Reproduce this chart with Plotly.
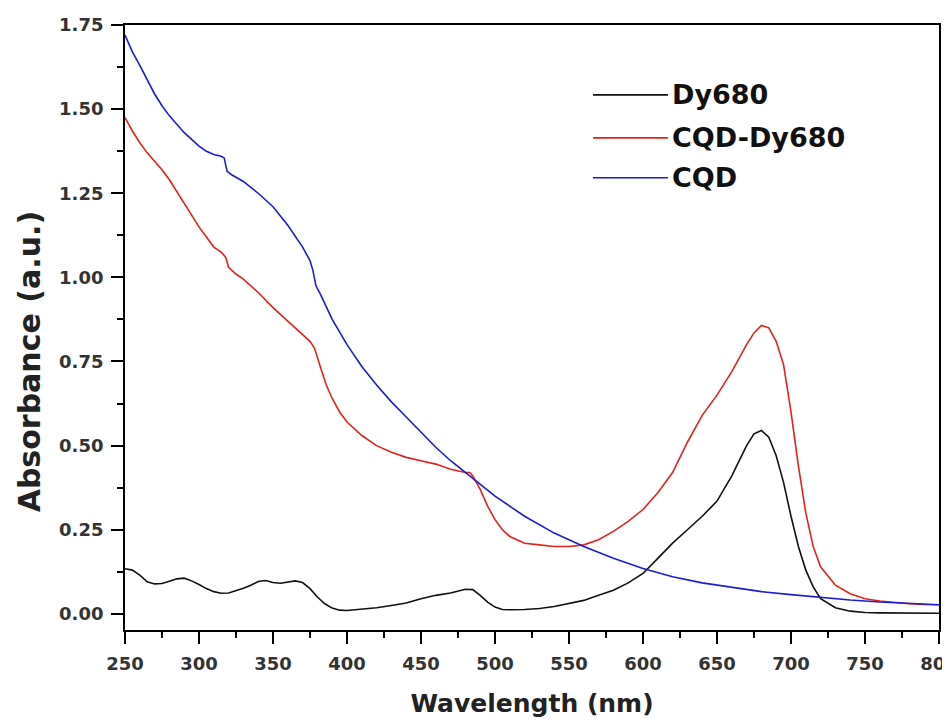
import plotly.graph_objects as go

# ---- data ----
dy_x = [250,255,260,265,270,275,280,285,290,295,300,305,310,315,320,325,330,335,340,345,350,355,360,365,370,375,380,385,390,395,400,410,420,430,440,450,460,470,475,480,485,490,495,500,505,510,520,530,540,550,560,570,580,590,600,610,620,630,640,650,660,670,675,680,685,690,695,700,705,710,715,720,730,740,750,760,770,780,790,800]
dy_y = [0.134,0.13,0.115,0.095,0.089,0.09,0.097,0.104,0.106,0.098,0.087,0.075,0.066,0.061,0.062,0.068,0.076,0.085,0.096,0.099,0.093,0.091,0.095,0.098,0.093,0.075,0.05,0.03,0.017,0.011,0.01,0.013,0.018,0.025,0.032,0.045,0.055,0.062,0.067,0.073,0.072,0.055,0.035,0.02,0.013,0.012,0.013,0.016,0.022,0.03,0.04,0.055,0.07,0.092,0.12,0.165,0.21,0.25,0.29,0.335,0.41,0.5,0.535,0.545,0.525,0.47,0.39,0.29,0.2,0.13,0.08,0.045,0.018,0.008,0.004,0.003,0.003,0.002,0.002,0.002]

cd_x = [250,255,260,265,270,275,280,290,300,310,315,318,320,325,330,340,350,360,370,375,378,380,383,386,390,395,400,410,420,430,440,450,460,470,475,480,483,485,490,495,500,505,510,520,530,540,550,560,570,580,590,600,610,620,630,640,650,660,670,675,680,685,690,695,700,705,710,715,720,730,740,750,760,770,780,790,800]
cd_y = [1.475,1.435,1.40,1.37,1.345,1.32,1.29,1.22,1.15,1.09,1.075,1.06,1.03,1.01,0.995,0.955,0.91,0.87,0.83,0.81,0.79,0.76,0.72,0.68,0.64,0.60,0.57,0.53,0.50,0.48,0.465,0.455,0.445,0.43,0.425,0.42,0.42,0.41,0.37,0.32,0.28,0.25,0.23,0.21,0.205,0.20,0.20,0.205,0.22,0.245,0.275,0.31,0.36,0.42,0.51,0.59,0.65,0.72,0.80,0.835,0.857,0.85,0.81,0.74,0.60,0.44,0.30,0.20,0.14,0.085,0.06,0.045,0.038,0.033,0.03,0.028,0.027]

cq_x = [250,255,260,265,270,275,280,285,290,295,300,305,310,315,317,319,322,330,340,350,360,370,375,377,379,382,390,400,410,420,430,440,450,460,470,480,490,500,520,540,560,580,600,620,640,660,680,700,720,740,760,780,800]
cq_y = [1.72,1.67,1.63,1.585,1.545,1.51,1.48,1.455,1.43,1.41,1.39,1.375,1.365,1.36,1.355,1.315,1.305,1.285,1.25,1.21,1.155,1.09,1.05,1.02,0.975,0.95,0.875,0.80,0.735,0.68,0.63,0.585,0.54,0.495,0.455,0.42,0.385,0.35,0.29,0.24,0.2,0.165,0.135,0.11,0.092,0.078,0.066,0.057,0.048,0.041,0.035,0.03,0.027]

names = ["Dy680", "CQD-Dy680", "CQD"]
colors = ["#111111", "#e3221c", "#1c1cd6"]

FONT = "DejaVu Sans"

fig = go.Figure()
for xs, ys, nm, c in zip([dy_x, cd_x, cq_x], [dy_y, cd_y, cq_y], names, colors):
    fig.add_trace(go.Scatter(x=xs, y=ys, mode="lines", name=nm,
                             line=dict(color=c, width=1.6), showlegend=False))

# manual legend (long swatches as in the original)
leg_y = [0.8845, 0.8135, 0.7475]
for nm, c, ly in zip(names, colors, leg_y):
    fig.add_shape(type="line", xref="paper", yref="paper",
                  x0=0.575, x1=0.667, y0=ly, y1=ly,
                  line=dict(color=c, width=1.6))
    fig.add_annotation(xref="paper", yref="paper", x=0.669, y=ly, text="<b>" + nm + "</b>",
                       showarrow=False, xanchor="left", yanchor="middle",
                       font=dict(family=FONT, size=27, color="#111111"))

# y-axis title (placed slightly below the axis centre, as in the original)
fig.add_annotation(xref="paper", yref="paper", x=-0.118, y=0.444,
                   text="<b>Absorbance (a.u.)</b>", textangle=-90, showarrow=False,
                   xanchor="center", yanchor="middle",
                   font=dict(family=FONT, size=30, color="#222222"))

font_tick = dict(family=FONT, size=18, color="#333333")

common = dict(ticks="outside", ticklen=12, tickwidth=1.5, tickcolor="black",
              showline=True, linecolor="black", linewidth=1.8, mirror=True,
              showgrid=False, zeroline=False, automargin=False, tickfont=font_tick,
              ticklabelstandoff=4, ticklabeloverflow="allow",
              tickprefix="<b>", ticksuffix="</b>")

fig.update_layout(
    width=942, height=718,
    margin=dict(l=117, r=11, t=17, b=96),
    paper_bgcolor="white", plot_bgcolor="white",
    xaxis=dict(range=[250, 800], dtick=50, tick0=250,
               minor=dict(dtick=25, ticks="outside", ticklen=6, tickwidth=1.5, tickcolor="black"),
               title=dict(text="<b>Wavelength (nm)</b>",
                          font=dict(family=FONT, size=25, color="#222222"), standoff=22),
               **common),
    yaxis=dict(range=[-0.048, 1.75], dtick=0.25, tick0=0, tickformat=".2f",
               minor=dict(dtick=0.125, ticks="outside", ticklen=6, tickwidth=1.5, tickcolor="black"),
               **common),
)

fig.write_html("out.html")
